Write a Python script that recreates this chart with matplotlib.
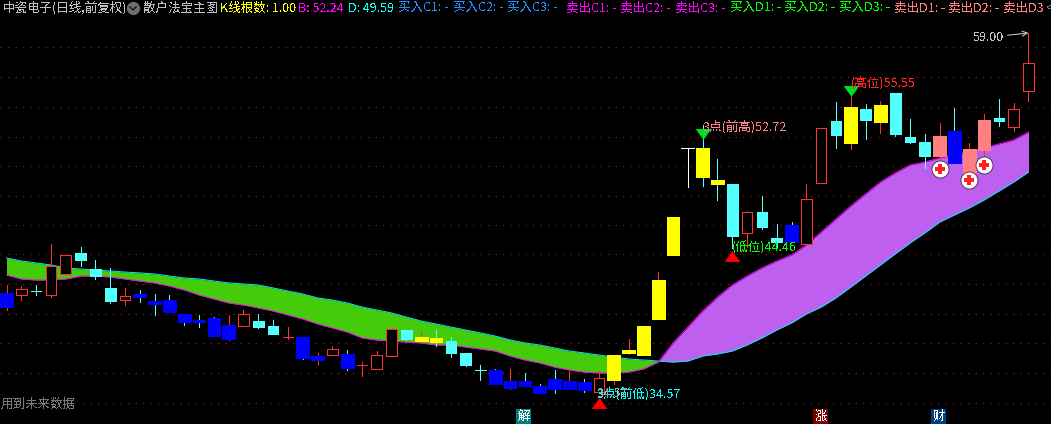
import matplotlib
matplotlib.use("Agg")
import matplotlib.pyplot as plt
from matplotlib.lines import Line2D
import numpy as np

plt.rcParams["font.family"] = ["Noto Sans CJK SC", "DejaVu Sans"]
plt.rcParams["text.antialiased"] = False

W, H = 1051, 424

# ---------------------------------------------------------------------
# Data (prices)
# ---------------------------------------------------------------------
body_top = [41.32, 41.59, 41.42, 43.15, 43.90, 44.04, 42.95, 41.66, 41.11, 41.25,
            40.77, 40.84, 39.89, 39.48, 39.62, 39.14, 39.89, 39.41, 39.07, 38.32,
            38.32, 37.03, 37.51, 37.17, 36.42, 37.10, 38.87, 38.80, 38.32, 38.26,
            38.05, 37.24, 36.08, 36.08, 35.33, 35.33, 34.99, 35.47, 35.33, 35.26,
            35.54, 37.10, 37.44, 39.07, 42.20, 46.48, 51.18, 51.18, 49.00, 48.73,
            46.82, 46.82, 45.06, 45.94, 47.71, 52.54, 53.01, 53.96, 53.83, 54.10,
            54.92, 51.92, 51.58, 51.99, 52.33, 51.11, 53.08, 53.22, 53.83, 56.96]
body_bot = [40.36, 41.18, 41.42, 41.18, 42.61, 43.56, 42.47, 40.77, 40.84, 41.04,
            40.57, 40.02, 39.34, 39.34, 38.39, 38.19, 39.07, 39.00, 38.53, 38.32,
            36.90, 36.76, 37.10, 36.22, 36.42, 36.15, 37.03, 38.19, 38.05, 37.98,
            37.24, 36.42, 36.08, 35.13, 34.86, 34.99, 34.52, 34.79, 34.79, 34.72,
            34.58, 35.40, 37.24, 37.10, 39.55, 43.90, 51.18, 49.20, 48.73, 45.19,
            45.40, 45.80, 44.78, 44.78, 44.65, 48.80, 52.06, 51.52, 53.08, 52.94,
            52.13, 51.58, 50.63, 50.63, 50.16, 49.48, 51.04, 53.01, 52.60, 55.05]
highs = [41.86, 41.79, 41.86, 44.65, 43.90, 44.44, 43.56, 43.02, 41.66, 41.52,
         41.25, 41.18, 39.89, 39.82, 39.68, 39.82, 40.16, 39.89, 39.48, 39.00,
         38.32, 37.24, 37.71, 37.44, 36.62, 37.37, 39.00, 38.80, 38.66, 38.80,
         38.32, 37.24, 36.42, 36.15, 36.15, 35.88, 35.13, 36.08, 36.01, 35.47,
         36.01, 37.10, 38.19, 39.07, 42.74, 46.48, 51.18, 52.74, 50.43, 48.73,
         46.89, 47.91, 46.01, 46.14, 48.73, 52.54, 54.30, 54.78, 54.17, 54.37,
         54.92, 53.15, 52.13, 52.88, 53.90, 51.52, 53.49, 54.51, 54.24, 59.00]
lows = [40.16, 40.84, 41.18, 41.04, 42.54, 43.15, 42.27, 40.64, 40.50, 40.70,
        39.82, 40.02, 39.14, 39.00, 38.39, 38.12, 39.07, 38.94, 38.53, 38.19,
        36.83, 36.49, 37.10, 36.08, 35.67, 36.15, 37.03, 38.12, 38.05, 37.71,
        36.96, 36.35, 35.40, 35.13, 34.79, 34.99, 34.52, 34.52, 34.79, 34.58,
        34.58, 35.13, 37.17, 37.10, 39.55, 43.90, 48.52, 48.59, 47.64, 44.38,
        44.44, 45.67, 44.44, 44.78, 44.65, 48.80, 51.18, 51.11, 51.79, 52.20,
        51.99, 51.52, 49.82, 50.16, 50.16, 49.20, 50.50, 52.67, 52.33, 54.37]
# h hollow red, x red cross, c cyan, b blue, r blue with red wick,
# y yellow with red wick, u yellow with cyan wick, w white, p salmon
kinds = ["r", "h", "c", "h", "h", "c", "c", "c", "h", "b",
         "b", "b", "b", "b", "b", "r", "h", "c", "c", "x",
         "b", "r", "h", "b", "x", "h", "h", "c", "y", "u",
         "c", "c", "c", "b", "r", "b", "b", "b", "r", "b",
         "h", "y", "y", "y", "y", "y", "w", "u", "u", "c",
         "h", "c", "c", "b", "h", "h", "c", "y", "c", "y",
         "c", "c", "c", "p", "b", "p", "p", "c", "h", "h"]

band_a = [43.70, 43.49, 43.36, 43.22, 43.02, 42.95, 42.88, 42.81, 42.74, 42.68,
          42.61, 42.47, 42.34, 42.27, 42.13, 42.00, 41.93, 41.86, 41.66, 41.45,
          41.25, 40.98, 40.84, 40.64, 40.36, 40.16, 39.96, 39.68, 39.41, 39.21,
          39.00, 38.80, 38.60, 38.39, 38.12, 37.92, 37.78, 37.58, 37.37, 37.24,
          37.10, 36.96, 36.83, 36.76, 36.69, 36.62, 36.69, 37.03, 37.17, 37.37,
          37.78, 38.26, 38.80, 39.28, 39.89, 40.36, 40.98, 41.72, 42.47, 43.22,
          43.97, 44.72, 45.40, 46.14, 46.62, 47.10, 47.64, 48.25, 48.86, 49.54]
band_b = [42.54, 42.27, 42.20, 42.20, 42.27, 42.47, 42.47, 42.40, 42.27, 42.13,
          42.00, 41.79, 41.52, 41.18, 40.91, 40.64, 40.50, 40.30, 40.09, 39.82,
          39.55, 39.21, 38.94, 38.66, 38.26, 38.12, 38.05, 37.98, 37.92, 37.78,
          37.78, 37.64, 37.51, 37.37, 37.03, 36.76, 36.56, 36.28, 36.08, 35.94,
          35.88, 35.88, 35.94, 36.15, 36.62, 37.92, 39.00, 40.09, 41.04, 41.86,
          42.47, 43.02, 43.49, 43.90, 44.58, 45.46, 46.35, 47.23, 48.05, 48.86,
          49.48, 50.02, 50.22, 50.50, 50.70, 50.97, 51.18, 51.45, 51.72, 52.26]

grid_levels = [58.04, 56.00, 53.96, 51.92, 49.95, 47.91, 45.94, 43.97, 41.93,
               39.89, 37.92, 35.88, 33.84]

up_idx = [40, 49]
up_price = [33.87, 43.80]
down_idx = [47, 57]
down_price = [52.16, 55.02]
buy_idx = [63, 65, 66]
buy_price = [49.75, 49.00, 50.02]

header = [("中瓷电子(日线,前复权)", 3, "#c0c0c0"),
          ("散户法宝主图", 143, "#c0c0c0"),
          ("K线根数: 1.00", 220, "#ffff00"),
          ("B: 52.24", 298, "#ff00ff"),
          ("D: 49.59", 348, "#00ffff"),
          ("买入C1: -", 398, "#1e90ff"),
          ("买入C2: -", 453, "#1e90ff"),
          ("买入C3: -", 507, "#1e90ff"),
          ("卖出C1: -", 566, "#ff00ff"),
          ("卖出C2: -", 620, "#ff00ff"),
          ("卖出C3: -", 675, "#ff00ff"),
          ("买入D1: -", 730, "#00ff00"),
          ("买入D2: -", 784, "#00ff00"),
          ("买入D3: -", 839, "#00ff00"),
          ("卖出D1: -", 894, "#ff8080"),
          ("卖出D2: -", 948, "#ff8080"),
          ("卖出D3", 1003, "#ff8080")]

RED = "#ff3232"
CYAN = "#54ffff"
BLUE = "#0000ff"
YELLOW = "#ffff00"
SALMON = "#ff8080"

# body face, body edge, wick, body width in index units
STYLE = {
    "h": ("#000000", RED, RED, 0.72),
    "x": (RED, RED, RED, 0.72),
    "c": (CYAN, CYAN, CYAN, 0.72),
    "b": (BLUE, BLUE, CYAN, 0.86),
    "r": (BLUE, BLUE, RED, 0.86),
    "y": (YELLOW, YELLOW, RED, 0.86),
    "u": (YELLOW, YELLOW, CYAN, 0.86),
    "w": ("#ffffff", "#ffffff", "#ffffff", 0.86),
    "p": (SALMON, SALMON, RED, 0.86),
}
TRI_UP = [(-1, -0.7), (1, -0.7), (0, 0.7)]
TRI_DOWN = [(-1, 0.7), (1, 0.7), (0, -0.7)]
LW = 0.72  # one pixel at dpi 100

# ---------------------------------------------------------------------
# Chart
# ---------------------------------------------------------------------
fig = plt.figure(figsize=(W / 100, H / 100), dpi=100, facecolor="black")
ax = fig.add_axes([0, 0, 1, 1], facecolor="black")
ax.set_xlim(-0.44, 70.52)
ax.set_ylim(32.408, 61.24)
ax.axis("off")

idx = np.arange(len(kinds))

for level in grid_levels:
    ax.axhline(level, color="#8a1c1c", lw=0.9, dashes=(1, 5), zorder=1)

a = np.array(band_a)
b = np.array(band_b)
ax.fill_between(idx, a, b, where=a >= b, interpolate=True, color="#44cc0a", lw=0, zorder=2)
ax.fill_between(idx, a, b, where=a <= b, interpolate=True, color="#bf5ff0", lw=0, zorder=2)
ax.plot(idx, a, color="#00e8f0", lw=LW, zorder=3)
ax.plot(idx, b, color="#ff00ff", lw=LW, zorder=3)

for i, kind in enumerate(kinds):
    face, edge, wick, width = STYLE[kind]
    ax.vlines(i, lows[i], highs[i], color=wick, lw=LW, zorder=4, antialiased=False)
    height = body_top[i] - body_bot[i]
    if height < 0.02:
        ax.hlines(body_top[i], i - width / 2, i + width / 2, color=edge, lw=LW, zorder=5,
                  antialiased=False)
    else:
        ax.bar(i, height, width, bottom=body_bot[i], facecolor=face, edgecolor=edge,
               lw=LW, zorder=5, antialiased=False)

ax.scatter(up_idx, up_price, marker=TRI_UP, s=125, color="#ff0000", lw=0, zorder=6)
ax.scatter(down_idx, down_price, marker=TRI_DOWN, s=125, color="#00e020", lw=0, zorder=6)
ax.scatter(buy_idx, buy_price, marker="o", s=150, color="white", edgecolor="#303030",
           lw=0.6, zorder=6)
ax.scatter(buy_idx, buy_price, marker="P", s=55, color="#ff2020", lw=0, zorder=7)

# labels on the chart
ax.text(47.0, 52.65, "3点(前高)52.72", color=SALMON, fontsize=9, va="center", ha="left", zorder=8)
ax.text(57.0, 55.55, "(高位)55.55", color="#ff2020", fontsize=9, va="center", ha="left", zorder=8)
ax.text(49.0, 44.35, "(低位)44.46", color="#00ff00", fontsize=9, va="center", ha="left", zorder=8)
ax.text(39.85, 34.45, "3点(前低)34.57", color="#00ffff", fontsize=9, va="center", ha="left", zorder=8)
ax.text(39.85, 34.45, "34.57", color="#a0a0a0", fontsize=9, va="center", ha="left", zorder=8)
ax.annotate("59.00", xy=(69, 59.0), xytext=(65.2, 58.7), color="#c0c0c0", fontsize=9,
            va="center", ha="left", zorder=8,
            arrowprops=dict(arrowstyle="->", color="#c0c0c0", lw=0.8, shrinkA=1, shrinkB=0))


def px_text(x, y, s, **kw):
    fig.text(x / W, 1 - y / H, s, va="center", ha="left", **kw)


for label, x, color in header:
    px_text(x, 8, label, color=color, fontsize=9)

# menu button in the title
fig.add_artist(Line2D([133 / W], [1 - 8 / H], marker="o", ms=8.5, color="#6e6e6e", lw=0,
                      transform=fig.transFigure))
fig.add_artist(Line2D([130 / W, 133 / W, 136 / W], [1 - 7 / H, 1 - 10 / H, 1 - 7 / H],
                      color="#1c1c1c", lw=1.1, transform=fig.transFigure))
px_text(1046, 8, "<", color="#808080", fontsize=7)

px_text(1, 404, "用到未来数据", color="#787878", fontsize=9,
        bbox=dict(facecolor="black", edgecolor="none", pad=0.5))

for label, x, bg in [("解", 523.5, "#008080"), ("涨", 820.5, "#800000"), ("财", 938.5, "#004080")]:
    fig.text(x / W, 1 - 416.5 / H, label, color="white", fontsize=9, va="center", ha="center",
             bbox=dict(facecolor=bg, edgecolor="none", pad=0.6))

fig.savefig("out.png", dpi=100, facecolor="black")
plt.close(fig)
